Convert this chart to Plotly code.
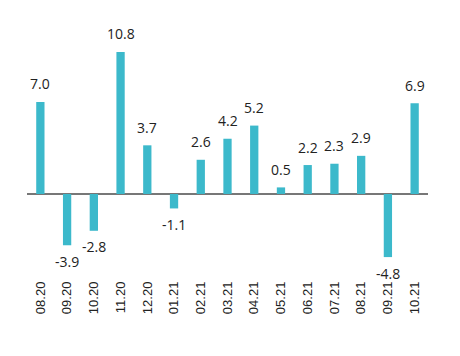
import plotly.graph_objects as go

months = ["08.20", "09.20", "10.20", "11.20", "12.20", "01.21", "02.21", "03.21",
          "04.21", "05.21", "06.21", "07.21", "08.21", "09.21", "10.21"]
values = [7.0, -3.9, -2.8, 10.8, 3.7, -1.1, 2.6, 4.2, 5.2, 0.5, 2.2, 2.3, 2.9, -4.8, 6.9]

BAR = "#3cb9cb"

fig = go.Figure(go.Bar(x=months, y=values, marker_color=BAR, marker_line_width=0,
                       width=0.31, hoverinfo="skip"))

for i, v in enumerate(values):
    fig.add_annotation(x=i, y=v, xref="x", yref="y", text=f"{v:.1f}", showarrow=False,
                       yanchor="middle", yshift=18 if v >= 0 else -16,
                       font=dict(family="Open Sans", size=14, color="#222"))

fig.update_layout(
    width=452, height=348,
    margin=dict(l=19, r=32, t=12, b=78, autoexpand=False),
    paper_bgcolor="white", plot_bgcolor="white",
    showlegend=False,
    xaxis=dict(type="category", tickangle=-90, showgrid=False, showline=False,
               ticks="", automargin=False,
               tickfont=dict(family="Liberation Sans", size=13, color="#222")),
    yaxis=dict(range=[-6.39, 13.23], visible=True, showgrid=False, showticklabels=False,
               ticks="", zeroline=True, zerolinecolor="#777", zerolinewidth=2,
               showline=False, automargin=False),
)

fig.write_html("out.html")
